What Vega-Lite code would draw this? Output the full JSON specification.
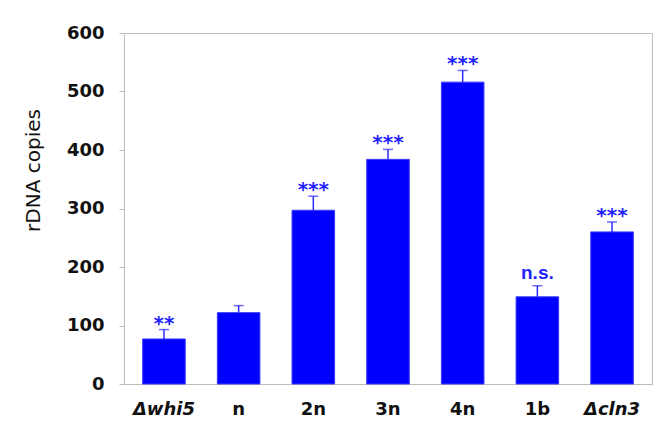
{
  "$schema": "https://vega.github.io/schema/vega-lite/v6.json",
  "autosize": {"type": "none"},
  "padding": {"left": 124, "top": 33, "right": 17, "bottom": 51},
  "width": 528,
  "height": 351,
  "background": "white",
  "config": {
    "view": {"stroke": "#bdbdbd", "strokeWidth": 1},
    "font": "DejaVu Sans"
  },
  "data": {
    "values": [
      {"strain": "Δwhi5", "copies": 77, "upper": 93, "sig": "**"},
      {"strain": "n", "copies": 122, "upper": 134, "sig": ""},
      {"strain": "2n", "copies": 297, "upper": 321, "sig": "***"},
      {"strain": "3n", "copies": 384, "upper": 401, "sig": "***"},
      {"strain": "4n", "copies": 516, "upper": 536, "sig": "***"},
      {"strain": "1b", "copies": 149, "upper": 168, "sig": "n.s."},
      {"strain": "Δcln3", "copies": 260, "upper": 277, "sig": "***"}
    ]
  },
  "encoding": {
    "x": {
      "field": "strain",
      "type": "nominal",
      "sort": null,
      "scale": {"paddingInner": 0.43, "paddingOuter": 0.25},
      "axis": {
        "title": null,
        "labelAngle": 0,
        "ticks": false,
        "domainColor": "#bdbdbd",
        "labelFontSize": 18,
        "labelFontWeight": "bold",
        "labelFontStyle": {"condition": {"test": "indexof(datum.label, 'Δ') >= 0", "value": "italic"}, "value": "normal"},
        "labelColor": "#111111",
        "labelPadding": 16
      }
    }
  },
  "layer": [
    {
      "mark": {"type": "bar", "color": "#0000ff", "stroke": "#3a3aff", "strokeWidth": 1},
      "encoding": {
        "y": {
          "field": "copies",
          "type": "quantitative",
          "scale": {"domain": [0, 600]},
          "axis": {
            "title": "rDNA copies",
            "titleFontSize": 20,
            "titleFontWeight": "normal",
            "titleColor": "#111111",
            "titlePadding": 23,
            "titleAnchor": "middle",
            "titleY": 137,
            "values": [0, 100, 200, 300, 400, 500, 600],
            "grid": false,
            "domainColor": "#bdbdbd",
            "tickColor": "#bdbdbd",
            "tickSize": 5,
            "labelFontSize": 18,
            "labelFontWeight": "bold",
            "labelColor": "#111111",
            "labelPadding": 15
          }
        }
      }
    },
    {
      "mark": {"type": "rule", "color": "#2b2bff", "strokeWidth": 1.5},
      "encoding": {
        "y": {"field": "copies", "type": "quantitative"},
        "y2": {"field": "upper"}
      }
    },
    {
      "mark": {"type": "tick", "color": "#2b2bff", "size": 10, "thickness": 1.5},
      "encoding": {
        "y": {"field": "upper", "type": "quantitative"}
      }
    },
    {
      "transform": [{"filter": "datum.sig != 'n.s.' && datum.sig != ''"}],
      "mark": {"type": "text", "color": "#1f1fff", "fontSize": 20, "fontWeight": "bold", "baseline": "alphabetic", "dy": 0},
      "encoding": {
        "y": {"field": "upper", "type": "quantitative"},
        "text": {"field": "sig"}
      }
    },
    {
      "transform": [{"filter": "datum.sig == 'n.s.'"}],
      "mark": {"type": "text", "font": "Liberation Sans", "color": "#1f1fff", "fontSize": 19, "fontWeight": "bold", "baseline": "alphabetic", "dy": -7},
      "encoding": {
        "y": {"field": "upper", "type": "quantitative"},
        "text": {"field": "sig"}
      }
    }
  ]
}
